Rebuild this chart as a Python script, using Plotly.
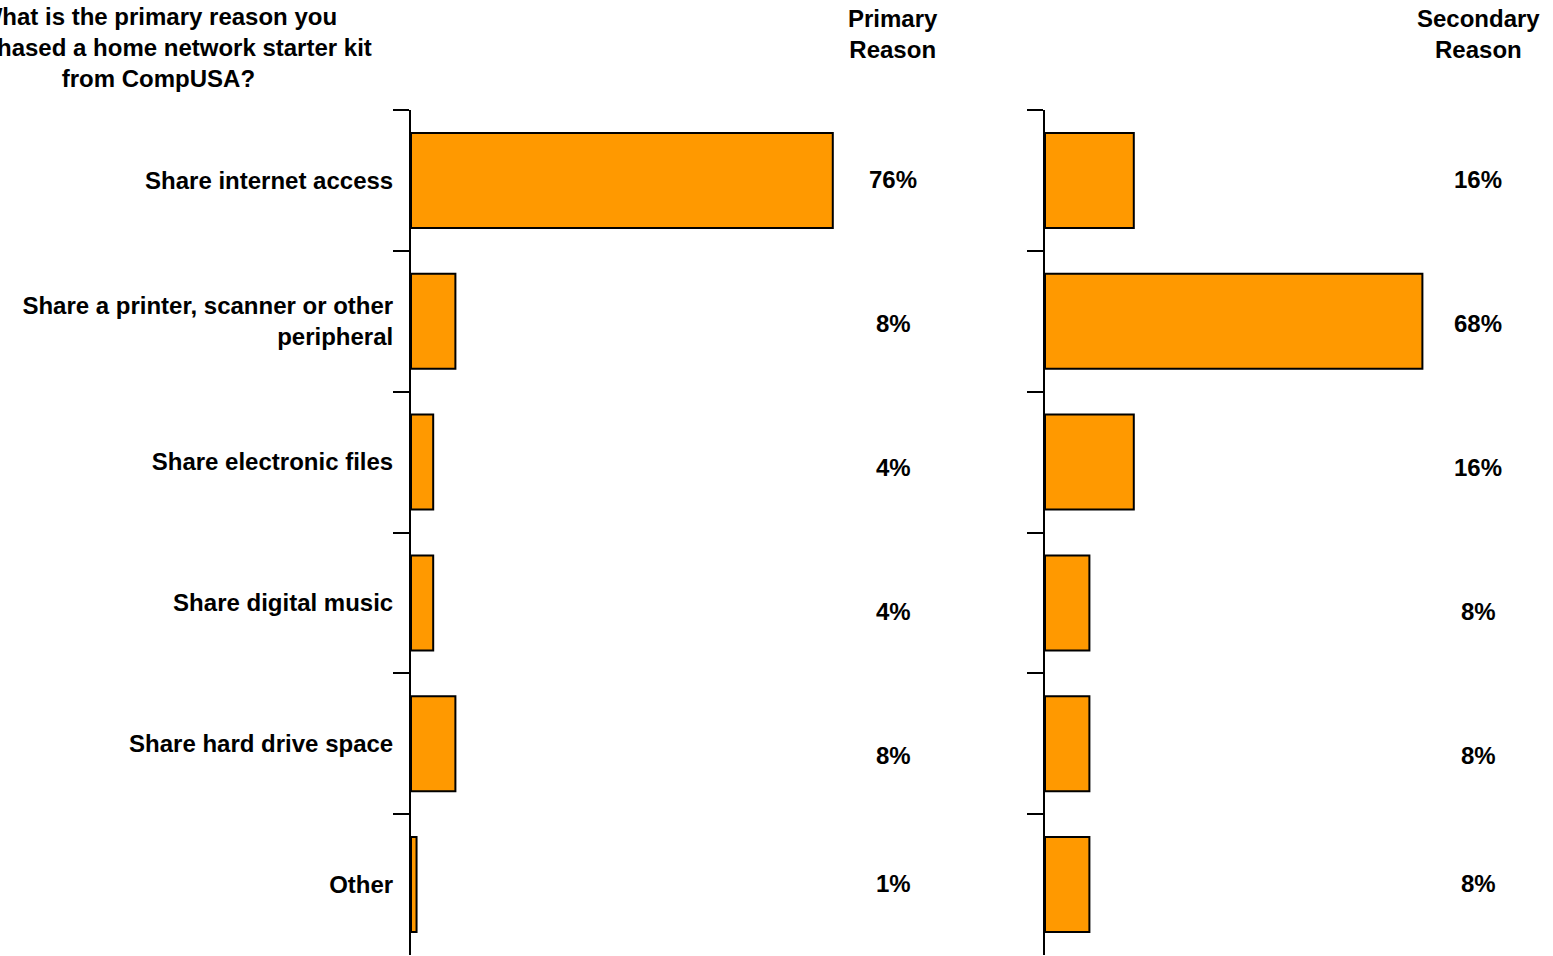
import plotly.graph_objects as go

categories = [
    "Share internet access",
    "Share a printer, scanner or other<br>peripheral",
    "Share electronic files",
    "Share digital music",
    "Share hard drive space",
    "Other",
]
primary = [76, 8, 4, 4, 8, 1]
secondary = [16, 68, 16, 8, 8, 8]

question = "What is the primary reason you<br>purchased a home network starter kit<br>from CompUSA?"
header_primary = "Primary<br>Reason"
header_secondary = "Secondary<br>Reason"

W, H = 1553, 956
ML, MT, MB, MR = 411, 110, 1, 0
PW = W - ML - MR
PH = H - MT - MB

# vertical centres (page pixels) of the rows of the percentage table
TABLE_ROWS_PX = [179, 323, 467, 611, 755, 883]

ORANGE = "#FF9900"
FONT = dict(family="Liberation Sans, Arial, sans-serif", size=24, color="black", weight="bold")


def px_x(x):
    return (x - ML) / PW


def px_y(y):
    return 1 + (MT - y) / PH


fig = go.Figure()
bar_style = dict(
    orientation="h",
    marker=dict(color=ORANGE, line=dict(color="black", width=2)),
    showlegend=False,
    hoverinfo="x+y",
)
fig.add_trace(go.Bar(x=primary, y=categories, xaxis="x", yaxis="y", **bar_style))
fig.add_trace(go.Bar(x=secondary, y=categories, xaxis="x2", yaxis="y2", **bar_style))

axis_x = dict(range=[0, 80], visible=False, fixedrange=True)
axis_y = dict(
    type="category",
    categoryorder="array",
    categoryarray=categories,
    autorange="reversed",
    showline=True,
    linecolor="black",
    linewidth=2,
    ticks="outside",
    tickson="boundaries",
    ticklen=16,
    tickwidth=2,
    tickcolor="black",
    showgrid=False,
    zeroline=False,
    fixedrange=True,
)

annotations = []
for row_px, p, s in zip(TABLE_ROWS_PX, primary, secondary):
    annotations.append(dict(x=px_x(893), y=px_y(row_px), xref="paper", yref="paper", text=f"{p}%",
                            showarrow=False, xanchor="center", yanchor="middle", font=FONT))
    annotations.append(dict(x=px_x(1478), y=px_y(row_px), xref="paper", yref="paper", text=f"{s}%",
                            showarrow=False, xanchor="center", yanchor="middle", font=FONT))

annotations += [
    dict(x=px_x(893), y=px_y(33.5), xref="paper", yref="paper", text=header_primary,
         showarrow=False, xanchor="center", yanchor="middle", font=FONT),
    dict(x=px_x(1478), y=px_y(33.5), xref="paper", yref="paper", text=header_secondary,
         showarrow=False, xanchor="center", yanchor="middle", font=FONT),
    dict(x=px_x(158), y=px_y(48), xref="paper", yref="paper", text=question,
         showarrow=False, xanchor="center", yanchor="middle", align="center", font=FONT),
]

fig.update_layout(
    width=W,
    height=H,
    margin=dict(l=ML, r=MR, t=MT, b=MB, autoexpand=False),
    paper_bgcolor="white",
    plot_bgcolor="white",
    bargap=0.325,
    font=FONT,
    xaxis=dict(domain=[0, px_x(855)], anchor="y", **axis_x),
    xaxis2=dict(domain=[px_x(1045), px_x(1489)], anchor="y2", **axis_x),
    yaxis=dict(anchor="x", tickfont=FONT, ticklabelstandoff=11, **axis_y),
    yaxis2=dict(anchor="x2", showticklabels=False, **axis_y),
    annotations=annotations,
)

fig.write_html("out.html", config={"displayModeBar": False})
